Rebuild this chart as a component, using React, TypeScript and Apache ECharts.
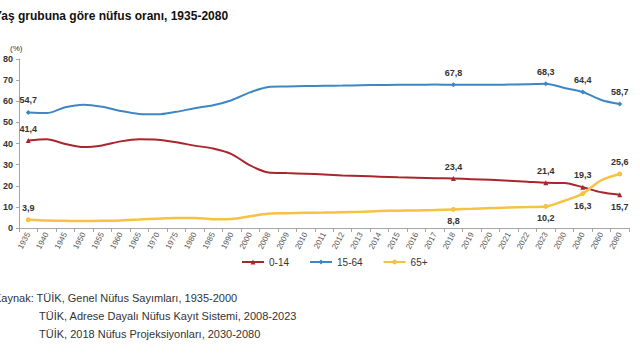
import React, { useEffect, useRef } from "react";
import * as echarts from "echarts";

const years = ["1935","1940","1945","1950","1955","1960","1965","1970","1975","1980","1985","1990","2000","2008","2009","2010","2011","2012","2013","2014","2015","2016","2017","2018","2019","2020","2021","2022","2023","2030","2040","2060","2080"];
const age0_14 = [41.4,42.0,39.8,38.3,39.1,41.0,42.0,41.8,40.6,39.0,37.6,35.0,29.6,26.3,26.0,25.7,25.3,24.9,24.6,24.3,24.0,23.8,23.6,23.4,23.1,22.8,22.4,21.9,21.4,21.3,19.3,16.9,15.7];
const age15_64 = [54.7,54.4,57.2,58.4,57.4,55.4,54.0,53.8,55.0,56.7,58.1,60.5,64.2,66.8,67.0,67.2,67.3,67.4,67.6,67.7,67.8,67.8,67.9,67.8,67.8,67.8,67.9,68.0,68.3,66.3,64.4,60.6,58.7];
const age65 = [3.9,3.5,3.4,3.3,3.4,3.6,4.0,4.4,4.7,4.7,4.2,4.3,5.6,6.8,7.0,7.2,7.3,7.5,7.7,8.0,8.2,8.3,8.5,8.8,9.1,9.5,9.7,9.9,10.2,12.9,16.3,22.6,25.6];
const yTicks = [0,10,20,30,40,50,60,70,80];
const labeled = [0, 23, 28, 30, 32];

const seriesNames = ["0-14", "15-64", "65+"];

export default function App() {
  const ref = useRef<HTMLDivElement>(null);
  useEffect(() => {
    if (!ref.current) return;
    const chart = echarts.init(ref.current, null, { renderer: "svg" });
    const fmt = (v: number) => v.toFixed(1).replace(".", ",");
    const build = (vals: number[], below: number[], symbol: string) =>
      vals.map((v, i) => {
        if (labeled.indexOf(i) < 0) return { value: v, symbolSize: 0 };
        return {
          value: v,
          symbol,
          symbolSize: 5,
          label: {
            show: true,
            position: below.indexOf(i) >= 0 ? "bottom" : "top",
            distance: 5,
            formatter: () => fmt(v),
            color: "#333",
            fontWeight: "bold",
            fontSize: 9,
            fontFamily: "Liberation Sans, Arial, sans-serif",
          },
        };
      });
    const colors = ["#A8262C", "#3E87C4", "#F5C242"];
    chart.setOption({
      animation: false,
      textStyle: { fontFamily: "Liberation Sans, Arial, sans-serif" },
      grid: { left: 14, right: 11, top: 59, bottom: 132, containLabel: false },
      xAxis: {
        type: "category",
        data: years,
        boundaryGap: true,
        axisLine: { lineStyle: { color: "#A6A6A6" } },
        axisTick: { show: true, length: 4, lineStyle: { color: "#A6A6A6" }, alignWithLabel: false },
        axisLabel: { rotate: 62, fontSize: 8, color: "#595959", margin: 5, interval: 0 },
      },
      yAxis: {
        type: "value",
        min: yTicks[0],
        max: yTicks[yTicks.length - 1],
        interval: 10,
        splitLine: { show: false },
        axisLine: { show: true, lineStyle: { color: "#A6A6A6" } },
        axisTick: { show: true, length: 3, inside: false, lineStyle: { color: "#A6A6A6" } },
        axisLabel: { fontSize: 9, color: "#333", fontWeight: "bold", margin: 6, formatter: (v: number) => String(v) },
      },
      legend: {
        bottom: 88,
        left: 236,
        itemWidth: 22,
        itemHeight: 6,
        itemGap: 20,
        textStyle: { fontSize: 10, color: "#333" },
        data: seriesNames,
      },
      series: [
        {
          name: seriesNames[0],
          type: "line",
          smooth: 0.3,
          showAllSymbol: true,
          symbol: "triangle",
          color: colors[0],
          lineStyle: { width: 2, color: colors[0] },
          data: build(age0_14, [32], "triangle"),
        },
        {
          name: seriesNames[1],
          type: "line",
          smooth: 0.3,
          showAllSymbol: true,
          symbol: "diamond",
          color: colors[1],
          lineStyle: { width: 2, color: colors[1] },
          data: build(age15_64, [], "diamond"),
        },
        {
          name: seriesNames[2],
          type: "line",
          smooth: 0.3,
          showAllSymbol: true,
          symbol: "circle",
          color: colors[2],
          lineStyle: { width: 2.5, color: colors[2] },
          data: build(age65, [23, 28, 30], "circle"),
        },
      ],
      graphic: [
        {
          type: "text",
          x: -6,
          y: 10,
          style: { text: "Yaş grubuna göre nüfus oranı, 1935-2080", fontSize: 12, fontWeight: "bold", fill: "#111", fontFamily: "Liberation Sans, Arial, sans-serif" },
        },
        {
          type: "text",
          x: 10,
          y: 44,
          style: { text: "(%)", fontSize: 8, fill: "#333", fontFamily: "Liberation Sans, Arial, sans-serif" },
        },
        {
          type: "text",
          x: -6,
          y: 292,
          style: { text: "Kaynak: TÜİK, Genel Nüfus Sayımları, 1935-2000", fontSize: 11, fill: "#333", fontFamily: "Liberation Sans, Arial, sans-serif" },
        },
        {
          type: "text",
          x: 39,
          y: 310,
          style: { text: "TÜİK, Adrese Dayalı Nüfus Kayıt Sistemi, 2008-2023", fontSize: 11, fill: "#333", fontFamily: "Liberation Sans, Arial, sans-serif" },
        },
        {
          type: "text",
          x: 39,
          y: 328,
          style: { text: "TÜİK, 2018 Nüfus Projeksiyonları, 2030-2080", fontSize: 11, fill: "#333", fontFamily: "Liberation Sans, Arial, sans-serif" },
        },
      ],
    });
    return () => chart.dispose();
  }, []);
  return <div ref={ref} style={{ width: 640, height: 360, position: "absolute", left: 0, top: 0 }} />;
}
